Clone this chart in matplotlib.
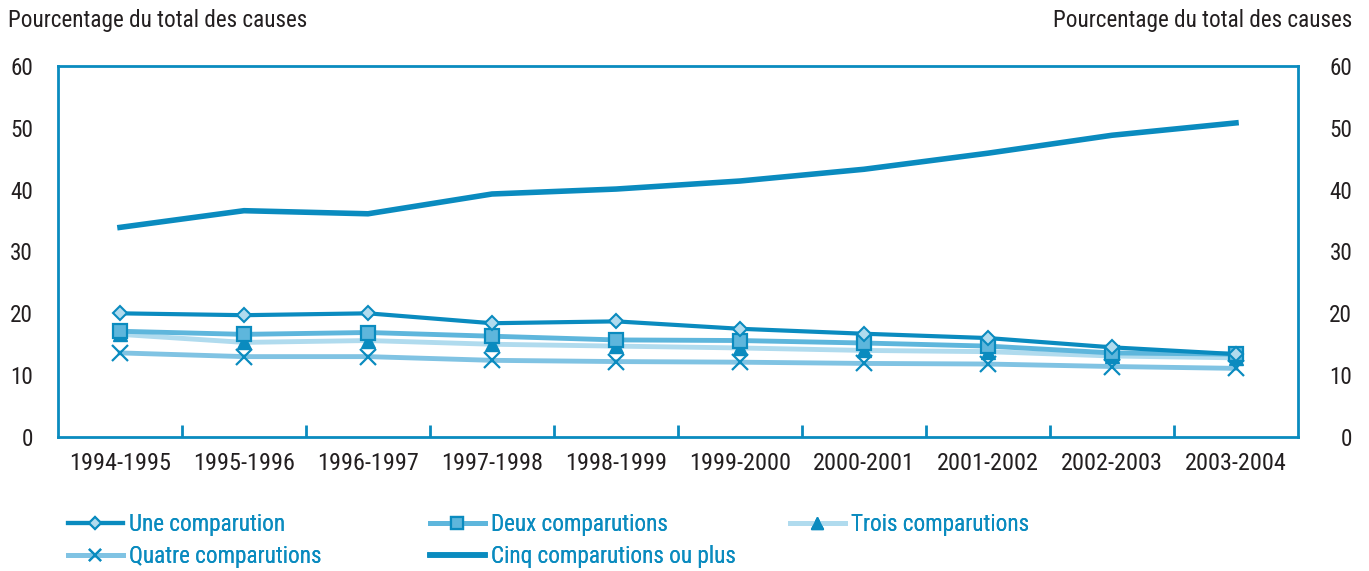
import matplotlib
matplotlib.use("Agg")
import matplotlib.pyplot as plt
from matplotlib import font_manager

years = ["1994-1995", "1995-1996", "1996-1997", "1997-1998", "1998-1999",
         "1999-2000", "2000-2001", "2001-2002", "2002-2003", "2003-2004"]
une = [20.0, 19.7, 20.0, 18.4, 18.7, 17.5, 16.7, 16.0, 14.5, 13.4]
deux = [17.1, 16.6, 16.9, 16.3, 15.7, 15.6, 15.2, 14.7, 13.6, 13.4]
trois = [16.6, 15.3, 15.6, 15.0, 14.7, 14.4, 14.0, 13.8, 13.1, 12.8]
quatre = [13.6, 13.0, 13.0, 12.4, 12.2, 12.1, 11.9, 11.8, 11.4, 11.1]
cinq = [33.9, 36.6, 36.1, 39.3, 40.1, 41.4, 43.3, 45.9, 48.8, 50.8]
labels = ["Une comparution", "Deux comparutions", "Trois comparutions",
          "Quatre comparutions", "Cinq comparutions ou plus"]
yticks = [0, 10, 20, 30, 40, 50, 60]
ylabel = "Pourcentage du total des causes"

avail = {f.name for f in font_manager.fontManager.ttflist}
fam = "DejaVu Sans"
for cand in ["Roboto Condensed", "Archivo Narrow", "PT Sans Narrow",
             "Liberation Sans Narrow", "Arimo"]:
    if cand in avail:
        fam = cand
        break
plt.rcParams['font.family'] = [fam, 'DejaVu Sans']

DARK = "#0a8bbf"
MID = "#5eb6dc"
LIGHT = "#b0dbee"
QUAT = "#80c3e3"
TXT = "#231f20"
FS = 16.7
FSX = 17.5

fig = plt.figure(figsize=(13.69, 5.71), dpi=100)
ax = fig.add_axes([58/1369, 134/571, 1240/1369, 371/571])
x = list(range(len(years)))

l_trois, = ax.plot(x, trois, color=LIGHT, lw=3.5, marker="^", ms=10,
                   mfc=DARK, mec=DARK, zorder=3)
l_quat, = ax.plot(x, quatre, color=QUAT, lw=3.5, marker="x", ms=11,
                  mec=DARK, mew=1.6, zorder=3)
l_deux, = ax.plot(x, deux, color=MID, lw=3.5, marker="s", ms=10,
                  mfc=MID, mec=DARK, mew=1.6, zorder=4)
l_une, = ax.plot(x, une, color=DARK, lw=3, marker="D", ms=7.5,
                 mfc=LIGHT, mec=DARK, mew=1.5, zorder=5)
l_cinq, = ax.plot(x, cinq, color=DARK, lw=4, zorder=5)

ax.set_xlim(-0.5, 9.5)
ax.set_ylim(0, 60)
for s in ax.spines.values():
    s.set_color(DARK)
    s.set_linewidth(2)

ax.set_xticks([i + 0.5 for i in range(9)])
ax.set_xticklabels([])
ax.set_xticks(x, minor=True)
ax.set_xticklabels(years, minor=True, fontsize=FSX, color=TXT)
ax.tick_params(axis='x', which='major', direction='in', length=9, width=2, color=DARK)
ax.tick_params(axis='x', which='minor', length=0, pad=11)

ax.set_yticks(yticks)
ax.tick_params(axis='y', length=0, labelsize=FS, labelcolor=TXT, pad=18)

ax2 = ax.twinx()
ax2.set_ylim(0, 60)
ax2.set_yticks(yticks)
ax2.tick_params(axis='y', length=0, labelsize=FS, labelcolor=TXT, pad=39)
for t in ax2.get_yticklabels():
    t.set_horizontalalignment('right')
for s in ax2.spines.values():
    s.set_visible(False)

fig.text(8/1369, 1 - 20/571, ylabel, fontsize=FS, color=TXT, va='center', ha='left')
fig.text(1352/1369, 1 - 20/571, ylabel, fontsize=FS, color=TXT, va='center', ha='right')

# legend
entries = [(l_une, 68, 525), (l_deux, 430, 525), (l_trois, 790, 525),
           (l_quat, 68, 557), (l_cinq, 430, 557)]
for (h, px, py), lab in zip(entries, labels):
    leg = fig.legend([h], [lab], loc='center left',
                     bbox_to_anchor=(px/1369, 1 - py/571), frameon=False,
                     fontsize=FS, handlelength=2.35, handletextpad=0.28,
                     borderpad=0, borderaxespad=0, labelcolor=DARK,
                     markerscale=0.85)
    fig.add_artist(leg)

fig.savefig("out.png", dpi=100)
